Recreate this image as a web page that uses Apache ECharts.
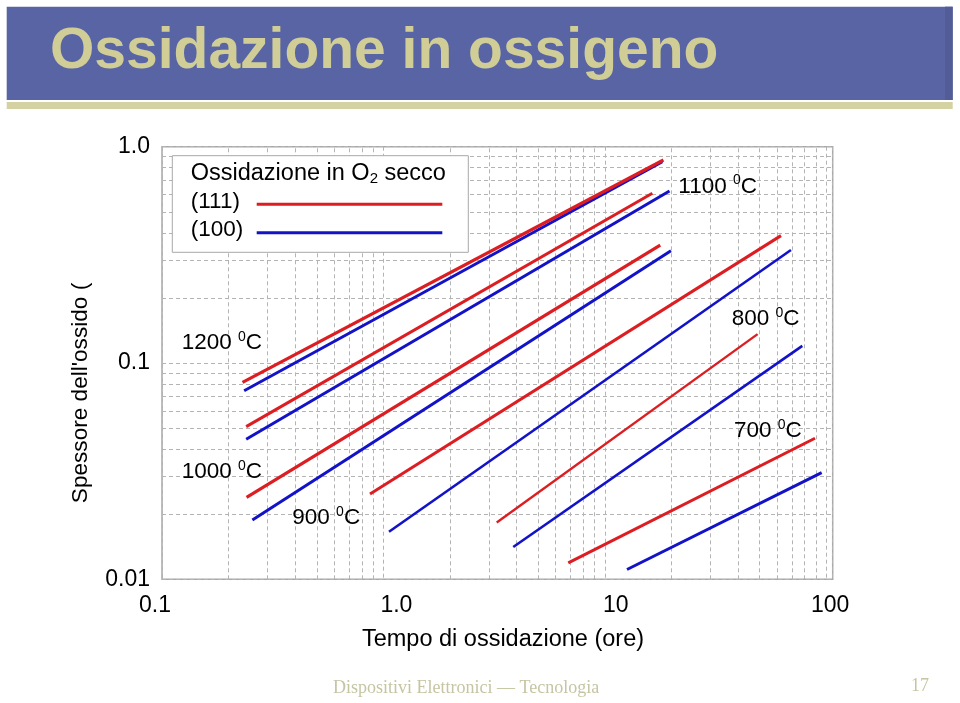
<!DOCTYPE html>
<html>
<head>
<meta charset="utf-8">
<script src="https://cdn.jsdelivr.net/npm/echarts@6/dist/echarts.min.js"></script>
<style>
html,body{margin:0;padding:0;background:#fff;}
#c{width:960px;height:703px;}
</style>
</head>
<body>
<div id="c"></div>
<script>
// ---- data ----
const temperature = ['1200', '1100', '1000', '900', '800', '700'];
// (111) orientation: [start, end] time (ore) and thickness
const time111 = [[0.231, 18.4], [0.240, 16.4], [0.241, 17.8], [0.870, 62.5], [3.25, 49.0], [6.84, 89.0]];
const thick111 = [[0.0814, 0.868], [0.0508, 0.609], [0.0239, 0.351], [0.0248, 0.388], [0.0183, 0.136], [0.0119, 0.0449]];
// (100) orientation
const time100 = [[0.235, 18.2], [0.240, 19.6], [0.256, 19.9], [1.06, 69.3], [3.86, 78.0], [12.6, 95.4]];
const thick100 = [[0.0744, 0.852], [0.0444, 0.624], [0.0188, 0.330], [0.0166, 0.333], [0.0141, 0.120], [0.0111, 0.0311]];
const lineWidth111 = [3.2, 3, 3.2, 3, 2.4, 3];
const lineWidth100 = [3, 3, 3, 2.6, 2.6, 3];
// axis ticks
const xTickValues = [0.1, 1, 10, 100];
const xTickLabels = ['0.1', '1.0', '10', '100'];
const yTickValues = [0.01, 0.1, 1];
const yTickLabels = ['0.01', '0.1', '1.0'];
const minorMult = [2, 3, 4, 5, 6, 7, 8, 9];
const xMinorDecades = [0.1, 1, 10];
const yMinorDecades = [0.01, 0.1];

const RED = '#dc1e22';
const BLUE = '#1212c8';
const GRIDC = '#b4b4b4';
const FONT = '"Liberation Sans", Arial, sans-serif';
const F22 = '22px "Liberation Sans", Arial, sans-serif';
const F22b = '22.5px "Liberation Sans", Arial, sans-serif';
const F23 = '23.5px "Liberation Sans", Arial, sans-serif';
const F14 = '14px "Liberation Sans", Arial, sans-serif';
const F15 = '15px "Liberation Sans", Arial, sans-serif';

// small horizontal nudges of x tick labels (reference labels sit slightly off their gridlines)
const xLabelRich = {
  l0: { padding: [0, 14, 0, 0] },
  l1: { padding: [0, 0, 0, 26] },
  l2: { padding: [0, 0, 0, 22] },
  l3: { padding: [0, 0, 0, 8] }
};

function idxOf(vals, v) {
  for (let i = 0; i < vals.length; i++) {
    if (Math.abs(Math.log10(v) - Math.log10(vals[i])) < 1e-6) return i;
  }
  return -1;
}

const minorLines = [];
xMinorDecades.forEach(d => minorMult.forEach(m => minorLines.push({ xAxis: +(d * m).toPrecision(6) })));
yMinorDecades.forEach(d => minorMult.forEach(m => minorLines.push({ yAxis: +(d * m).toPrecision(6) })));

const series = [];
series.push({
  type: 'line', data: [], silent: true, z: 1,
  markLine: {
    silent: true, z: 1, symbol: ['none', 'none'], animation: false,
    label: { show: false },
    lineStyle: { color: GRIDC, width: 1, type: [4, 3] },
    emphasis: { disabled: true },
    data: minorLines
  }
});
temperature.forEach((t, i) => {
  series.push({
    name: '(100) ' + t, type: 'line', showSymbol: false, symbol: 'none', z: 3,
    lineStyle: { color: BLUE, width: lineWidth100[i] },
    data: [[time100[i][0], thick100[i][0]], [time100[i][1], thick100[i][1]]]
  });
});
temperature.forEach((t, i) => {
  series.push({
    name: '(111) ' + t, type: 'line', showSymbol: false, symbol: 'none', z: 4,
    lineStyle: { color: RED, width: lineWidth111[i] },
    data: [[time111[i][0], thick111[i][0]], [time111[i][1], thick111[i][1]]]
  });
});

const supRich = {
  b: { font: F22b, lineHeight: 26, fill: '#000' },
  h: { font: F23, lineHeight: 26, fill: '#000' },
  sup: { font: F14, lineHeight: 17, verticalAlign: 'top', fill: '#000' },
  sub: { font: F15, lineHeight: 8, verticalAlign: 'bottom', fill: '#000' }
};
function tempLabel(t, x, y) {
  return {
    type: 'text', z: 50, x: x, y: y,
    style: {
      text: '{b|' + t + ' }{sup|0}{b|C}', rich: supRich, font: F22b,
      textAlign: 'left', textVerticalAlign: 'middle', fill: '#000'
    }
  };
}
const tempPos = [[181.7, 343], [678.3, 186.3], [181.7, 471.7], [292.3, 518], [731.7, 319], [734, 431]];

const graphic = [
  { type: 'rect', z: 0, shape: { x: 6.7, y: 6.7, width: 946, height: 93.3 }, style: { fill: '#5864a4' } },
  { type: 'rect', z: 0, shape: { x: 945, y: 6.7, width: 7.7, height: 93.3 }, style: { fill: '#525d98' } },
  { type: 'rect', z: 0, shape: { x: 6.7, y: 102, width: 946, height: 7 }, style: { fill: '#d4d2a2' } },
  { type: 'text', z: 1, x: 50, y: 52, style: { text: 'Ossidazione in ossigeno', font: 'bold 57px ' + FONT, fill: '#d0cd97', textAlign: 'left', textVerticalAlign: 'middle' } },
  // legend box
  { type: 'rect', z: 40, shape: { x: 172.3, y: 155.7, width: 296, height: 96.6 }, style: { fill: '#fff', stroke: '#a8a8a8', lineWidth: 1 } },
  { type: 'text', z: 41, x: 190.7, y: 173.5, style: { text: '{h|Ossidazione in O}{sub|2}{h| secco}', rich: supRich, font: F23, textAlign: 'left', textVerticalAlign: 'middle' } },
  { type: 'text', z: 41, x: 190.7, y: 201.7, style: { text: '(111)', font: F22b, fill: '#000', textAlign: 'left', textVerticalAlign: 'middle' } },
  { type: 'text', z: 41, x: 190.7, y: 229.5, style: { text: '(100)', font: F22b, fill: '#000', textAlign: 'left', textVerticalAlign: 'middle' } },
  { type: 'line', z: 41, shape: { x1: 256.7, y1: 204.3, x2: 442.3, y2: 204.3 }, style: { stroke: RED, lineWidth: 3 } },
  { type: 'line', z: 41, shape: { x1: 256.7, y1: 232.7, x2: 442.3, y2: 232.7 }, style: { stroke: BLUE, lineWidth: 3 } },
  // axis names
  { type: 'text', z: 41, x: 81, y: 393, rotation: Math.PI / 2, style: { text: "Spessore dell'ossido (", font: '22.6px "Liberation Sans", Arial, sans-serif', fill: '#000', textAlign: 'center', textVerticalAlign: 'middle' } },
  { type: 'text', z: 41, x: 503, y: 640, style: { text: 'Tempo di ossidazione (ore)', font: F23, fill: '#000', textAlign: 'center', textVerticalAlign: 'middle' } },
  // footer
  { type: 'text', z: 41, x: 333, y: 688, style: { text: 'Dispositivi Elettronici \u2014 Tecnologia', font: '18px "Liberation Serif", "Times New Roman", serif', fill: '#c6c5a3', textAlign: 'left', textVerticalAlign: 'middle' } },
  { type: 'text', z: 41, x: 929, y: 686, style: { text: '17', font: '18px "Liberation Serif", "Times New Roman", serif', fill: '#c6c5a3', textAlign: 'right', textVerticalAlign: 'middle' } }
];
temperature.forEach((t, i) => graphic.push(tempLabel(t, tempPos[i][0], tempPos[i][1])));

const chart = echarts.init(document.getElementById('c'), null, { renderer: 'canvas' });
chart.setOption({
  animation: false,
  backgroundColor: '#fff',
  grid: { left: 162, top: 146.7, width: 670.7, height: 432.6, show: true, borderColor: '#a8a8a8', borderWidth: 1.5, backgroundColor: 'transparent', containLabel: false },
  xAxis: {
    type: 'log', logBase: 10, min: 0.1, max: 107,
    axisLine: { show: false }, axisTick: { show: false },
    splitLine: { show: true, lineStyle: { color: GRIDC, width: 1, type: [4, 3] } },
    axisLabel: {
      formatter: function (v) {
        const i = idxOf(xTickValues, v);
        return i < 0 ? '' : '{l' + i + '|' + xTickLabels[i] + '}';
      },
      rich: xLabelRich,
      fontSize: 23, fontFamily: FONT, color: '#000', margin: 15, showMaxLabel: false
    }
  },
  yAxis: {
    type: 'log', logBase: 10, min: 0.01, max: 1,
    axisLine: { show: false }, axisTick: { show: false },
    splitLine: { show: true, lineStyle: { color: GRIDC, width: 1, type: [4, 3] } },
    axisLabel: {
      formatter: function (v) { const i = idxOf(yTickValues, v); return i < 0 ? '' : yTickLabels[i]; },
      fontSize: 23, fontFamily: FONT, color: '#000', margin: 12
    }
  },
  series: series,
  graphic: graphic
});
</script>
</body>
</html>
